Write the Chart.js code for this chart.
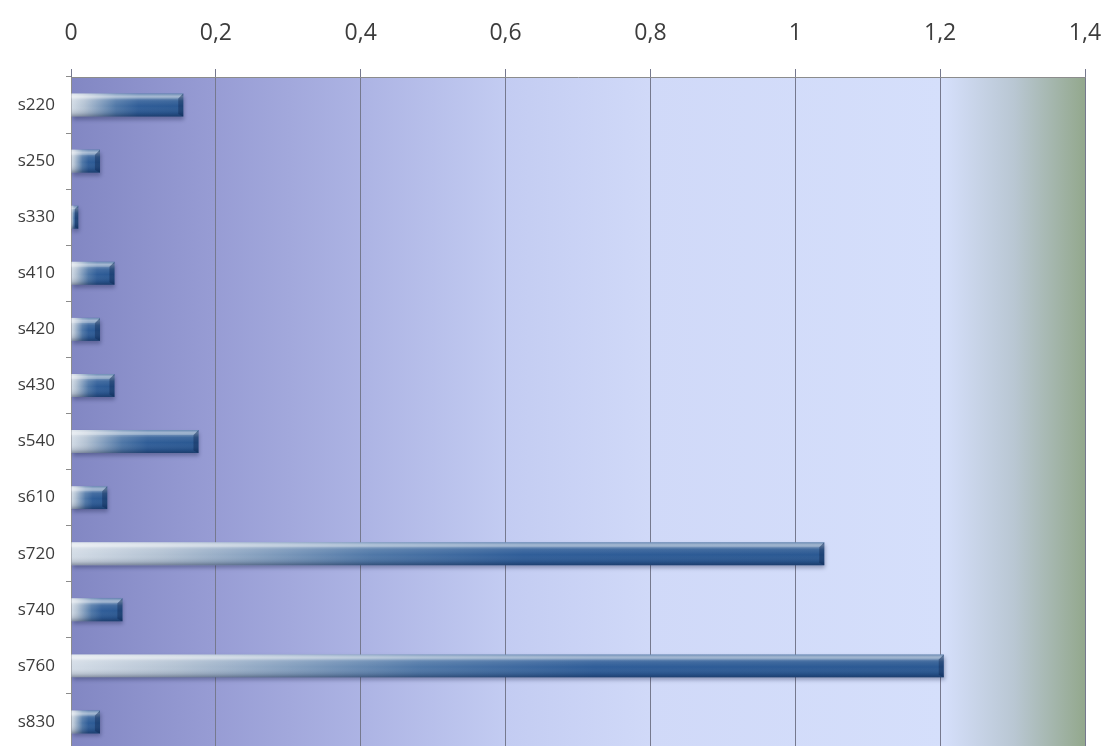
<!DOCTYPE html>
<html>
<head>
<meta charset="utf-8">
<title>s-series</title>
<script src="https://cdn.jsdelivr.net/npm/chart.js@4/dist/chart.umd.min.js"></script>
<style>
  html, body { margin: 0; padding: 0; background: #fff; overflow: hidden; }
  #wrap { position: relative; width: 1106px; height: 750px; }
</style>
</head>
<body>
<div id="wrap"><canvas id="chart" width="1106" height="750"></canvas></div>
<script>
// Categories top to bottom, one bar each.
const CATEGORIES = ['s220', 's250', 's330', 's410', 's420', 's430', 's540', 's610', 's720', 's740', 's760', 's830'];
const VALUES = [0.155, 0.04, 0.01, 0.06, 0.04, 0.06, 0.176, 0.05, 1.04, 0.071, 1.205, 0.04];
const X_TICKS = [0, 0.2, 0.4, 0.6, 0.8, 1, 1.2, 1.4];

const AXIS_MAX = X_TICKS[X_TICKS.length - 1];
const fmt = v => String(Math.round(v * 10) / 10).replace('.', ',');

// Plot-area wash: violet on the left, pale blue through the middle, sage at the end.
const plotWash = {
    id: 'plotWash',
    beforeDraw(chart) {
        const { ctx, chartArea: a, scales: { x } } = chart;
        const x0 = x.getPixelForValue(0), x1 = x.getPixelForValue(AXIS_MAX);
        const g = ctx.createLinearGradient(x0, 0, x1, 0);
        g.addColorStop(0.00, '#8287c3');
        g.addColorStop(0.14, '#979cd4');
        g.addColorStop(0.29, '#adb4e4');
        g.addColorStop(0.43, '#c3ccf2');
        g.addColorStop(0.57, '#d0d9f8');
        g.addColorStop(0.86, '#d5dffb');
        g.addColorStop(0.93, '#b9c7d3');
        g.addColorStop(1.00, '#93a88d');
        ctx.save();
        ctx.fillStyle = g;
        ctx.fillRect(a.left, a.top, a.right - a.left, a.bottom - a.top);
        ctx.restore();
    },
};

// Drop shadow under the bars, then a glossy top edge and dark underside on each bar.
const barGloss = {
    id: 'barGloss',
    beforeDatasetsDraw(chart) {
        const ctx = chart.ctx;
        ctx.save();
        ctx.shadowColor = 'rgba(20, 30, 70, 0.35)';
        ctx.shadowBlur = 4;
        ctx.shadowOffsetX = 1;
        ctx.shadowOffsetY = 3;
    },
    afterDatasetsDraw(chart) {
        const ctx = chart.ctx;
        ctx.restore();
        const meta = chart.getDatasetMeta(0);
        ctx.save();
        meta.data.forEach(bar => {
            const { x, y, base, height } = bar.getProps(['x', 'y', 'base', 'height'], true);
            const top = y - height / 2, w = x - base;
            if (w <= 0) return;
            const v = ctx.createLinearGradient(0, top, 0, top + height);
            v.addColorStop(0.00, 'rgba(255,255,255,0.10)');
            v.addColorStop(0.12, 'rgba(255,255,255,0.45)');
            v.addColorStop(0.32, 'rgba(255,255,255,0.10)');
            v.addColorStop(0.55, 'rgba(255,255,255,0)');
            v.addColorStop(0.85, 'rgba(0,10,40,0.12)');
            v.addColorStop(1.00, 'rgba(0,10,40,0.35)');
            ctx.fillStyle = v;
            ctx.fillRect(base, top, w, height);
            // bevelled right end
            const b = Math.min(5, w / 2);
            ctx.fillStyle = 'rgba(10,30,70,0.35)';
            ctx.beginPath();
            ctx.moveTo(x - b, top + b);
            ctx.lineTo(x, top);
            ctx.lineTo(x, top + height);
            ctx.lineTo(x - b, top + height - b / 2);
            ctx.closePath();
            ctx.fill();
            ctx.fillStyle = 'rgba(255,255,255,0.22)';
            ctx.beginPath();
            ctx.moveTo(base, top);
            ctx.lineTo(x, top);
            ctx.lineTo(x - b, top + b);
            ctx.lineTo(base, top + b);
            ctx.closePath();
            ctx.fill();
        });
        ctx.restore();
    },
};

// Silver on the left of each bar blending into steel blue toward its end.
function barFill(context) {
    const chart = context.chart;
    if (!chart.chartArea) return '#2b5b96';
    const x = chart.scales.x;
    const x0 = x.getPixelForValue(0);
    const x1 = x.getPixelForValue(context.raw);
    if (x1 - x0 < 1) return '#2b5b96';
    const g = chart.ctx.createLinearGradient(x0, 0, x1, 0);
    g.addColorStop(0.00, '#d3dce6');
    g.addColorStop(0.12, '#b3c2d3');
    g.addColorStop(0.40, '#4f77a7');
    g.addColorStop(0.60, '#2f5d98');
    g.addColorStop(1.00, '#2a5892');
    return g;
}

const TXT = '#3c3c3c';
const GRID = '#76798e';

new Chart(document.getElementById('chart'), {
    type: 'bar',
    data: {
        labels: CATEGORIES,
        datasets: [{
            data: VALUES,
            backgroundColor: barFill,
            borderWidth: 0,
            barPercentage: 0.41,
            categoryPercentage: 1,
        }],
    },
    plugins: [plotWash, barGloss],
    options: {
        indexAxis: 'y',
        responsive: false,
        animation: false,
        devicePixelRatio: 1,
        layout: { padding: { left: 0, top: 0, right: 21, bottom: 0 } },
        plugins: { legend: { display: false }, tooltip: { enabled: false } },
        scales: {
            x: {
                position: 'top',
                min: 0,
                max: AXIS_MAX,
                afterBuildTicks: axis => { axis.ticks = X_TICKS.map(v => ({ value: v })); },
                afterFit: axis => {
                    axis.height = 77;
                    axis.paddingLeft = 0;
                    axis.paddingRight = 0;
                },
                grid: { color: GRID, lineWidth: 1, tickLength: 8, drawTicks: true },
                border: { color: '#8c8c8c' },
                ticks: {
                    color: TXT,
                    padding: 22,
                    maxRotation: 0,
                    font: { family: 'Open Sans', size: 23 },
                    callback: v => fmt(v),
                },
            },
            y: {
                afterFit: axis => {
                    axis.width = 71;
                    axis.paddingTop = 0;
                    axis.paddingBottom = 0;
                },
                grid: { drawOnChartArea: false, color: '#8c8c8c', tickLength: 5 },
                border: { color: '#8c8c8c' },
                ticks: {
                    color: TXT,
                    padding: 11,
                    font: { family: 'Open Sans', size: 17 },
                },
            },
        },
    },
});
</script>
</body>
</html>
